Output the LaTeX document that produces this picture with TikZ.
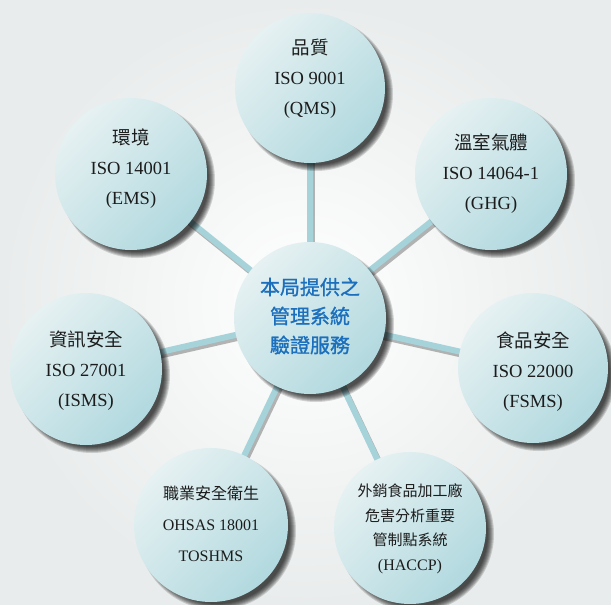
\documentclass[tikz,border=0pt]{standalone}
\usepackage{fontspec}
\setmainfont{Liberation Serif}
\newfontfamily\cjk{Noto Sans CJK TC}
\newfontfamily\cjkbold[FakeBold=1.2]{Noto Sans CJK TC}
\pgfdeclarelayer{bg}
\pgfdeclarelayer{lines}
\pgfdeclarelayer{shad}
\pgfsetlayers{bg,lines,shad,main}
\definecolor{circA}{HTML}{E6F1F2}
\definecolor{circB}{HTML}{B1D9DF}
\definecolor{linkc}{HTML}{A6D3DA}
\definecolor{hubtxt}{HTML}{1B6FBD}
\definecolor{txt}{HTML}{1C1C1C}
\definecolor{bggray}{HTML}{E9ECEC}
\begin{document}
\begin{tikzpicture}[x=1pt,y=-1pt,
  bubble/.style={circle, minimum size=#1, inner sep=0pt,
    top color=circA, bottom color=circB, shading angle=45},
  shadowdisc/.style={fill=black, opacity=0.15},
  lab/.style={align=center, text=txt, inner sep=0pt},
  big/.style={font=\fontsize{18.5}{30}\selectfont},
  small/.style={font=\fontsize{16}{31}\selectfont},
  tiny/.style={font=\fontsize{16}{24.5}\selectfont},
  link/.style={line width=6pt, draw=linkc},
  linkshade/.style={line width=6pt, draw=black, opacity=0.28,
    transform canvas={xshift=2pt,yshift=-3pt}}]
\useasboundingbox (0,0) rectangle (611,605);
\begin{pgfonlayer}{bg}
  \shade[inner color=white, outer color=bggray] (0,0) rectangle (611,605);
\end{pgfonlayer}

% circles
\node[bubble=152pt] (hub) at (310,318) {};
\node[bubble=150pt] (qms) at (310,88) {};
\node[bubble=152pt] (ems) at (131,174) {};
\node[bubble=152pt] (ghg) at (491,174) {};
\node[bubble=152pt] (isms) at (86,369) {};
\node[bubble=150pt] (fsms) at (533,368) {};
\node[bubble=154pt] (ohs) at (211,525) {};
\node[bubble=152pt] (haccp) at (410,528) {};

% shadows of the circles
\begin{pgfonlayer}{shad}
  \foreach \n/\r in {hub/76,qms/75,ems/76,ghg/76,isms/76,fsms/75,ohs/77,haccp/76}{
    \foreach \k in {0,...,6}{
      \fill[shadowdisc] ([shift={(6pt,-6pt)}]\n.center) circle[radius=\r+2-\k];
    }
  }
\end{pgfonlayer}

% connectors
\begin{pgfonlayer}{lines}
  \foreach \n in {qms,ems,ghg,isms,fsms,ohs,haccp}{
    \draw[linkshade] (hub.center) -- (\n.center);
    \draw[link] (hub.center) -- (\n.center);
  }
\end{pgfonlayer}

% texts
\node[lab, text=hubtxt, font=\cjkbold\fontsize{20}{29}\selectfont] (thub) at (310,316)
  {本局提供之\\管理系統\\驗證服務};
\node[lab, big] (tqms) at (310,79) {{\cjk 品質}\\ISO 9001\\(QMS)};
\node[lab, big] (tems) at (131,169) {{\cjk 環境}\\ISO 14001\\(EMS)};
\node[lab, big] (tghg) at (491,174) {{\cjk 溫室氣體}\\ISO 14064-1\\(GHG)};
\node[lab, big] (tisms) at (86,371) {{\cjk 資訊安全}\\ISO 27001\\(ISMS)};
\node[lab, big] (tfsms) at (533,372) {{\cjk 食品安全}\\ISO 22000\\(FSMS)};
\node[lab, small] (tohs) at (211,524) {{\cjk 職業安全衛生}\\OHSAS 18001\\TOSHMS};
\node[lab, tiny] (thaccp) at (410,529)
  {{\cjk\fontsize{15}{24.5}\selectfont 外銷食品加工廠}\\{\cjk\fontsize{15}{24.5}\selectfont 危害分析重要}\\{\cjk\fontsize{15}{24.5}\selectfont 管制點系統}\\(HACCP)};
\end{tikzpicture}
\end{document}
